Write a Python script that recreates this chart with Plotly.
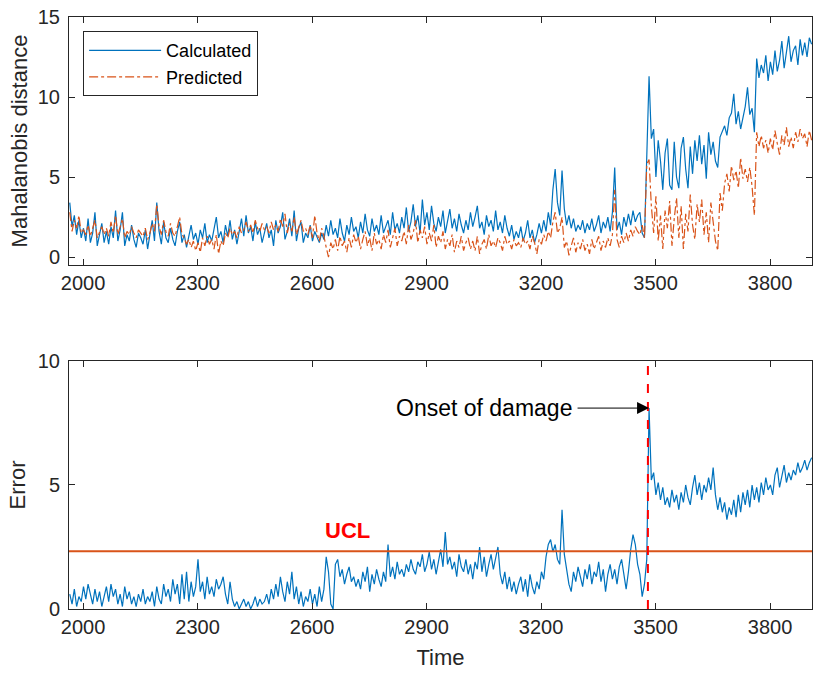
import plotly.graph_objects as go

# ---------------- data ----------------
t_start = 1965
t_step = 6

calculated = [
    3.4, 1.9, 2.6, 1.4, 2.3, 1.2,
    1.8, 1.0, 2.4, 0.9, 1.5, 2.8, 0.7, 1.3, 2.1, 0.9,
    1.6, 0.8, 1.9, 1.2, 2.9, 1.0, 1.7, 2.8, 0.7, 1.4,
    1.0, 2.0, 1.1, 0.6, 1.5, 1.2, 0.8, 1.7, 0.5, 1.4,
    2.3, 1.0, 3.4, 1.6, 0.8, 2.2, 1.2, 0.9, 1.8, 1.1,
    0.7, 1.6, 2.2, 0.9, 1.4, 0.6, 1.3, 2.0, 1.1, 1.5,
    0.8, 1.7, 1.2, 2.1, 0.9, 1.4, 1.0, 1.8, 2.5, 1.2,
    1.6, 0.9, 2.0, 1.3, 2.3, 1.1, 1.7, 0.8, 1.5, 2.4,
    1.3, 2.6, 1.5, 1.9, 1.0, 2.2, 1.4, 1.8, 0.9, 1.6,
    2.1, 1.2, 1.7, 0.7, 2.3, 1.5, 1.9, 2.8, 1.1, 1.6,
    2.4, 1.3, 2.9, 1.0, 1.8, 2.2, 0.9, 1.5, 1.2, 2.0,
    1.0, 1.6, 1.2, 0.9, 1.5, 1.1, 2.0, 1.3, 2.3, 1.4,
    1.8, 1.2, 2.4, 1.5, 1.0, 2.0, 1.4, 2.5, 1.6, 1.9,
    1.2, 2.2, 1.5, 2.7, 1.7, 1.3, 2.4, 1.6, 2.0, 1.4,
    2.6, 1.5, 1.9, 2.3, 1.4, 2.8, 1.7, 2.1, 1.5, 2.5,
    1.8, 3.1, 1.6, 2.2, 3.3, 1.9, 2.6, 1.5, 3.6, 2.0,
    2.8, 1.7, 3.2, 2.1, 1.6, 2.5, 1.9, 2.9, 1.5, 2.3,
    3.0, 1.8, 2.4, 1.6, 2.7, 2.0, 1.5, 2.3, 1.7, 2.8,
    1.9, 2.5, 3.2, 1.8, 2.2, 1.4, 2.6, 1.9, 2.3, 1.6,
    2.9, 1.7, 2.2, 1.5, 2.6, 1.8, 1.3, 2.0, 1.1, 1.6,
    1.2, 1.9, 1.0, 1.5, 2.3, 1.2, 1.7, 0.9, 1.4, 2.1,
    1.5, 2.3, 1.6, 2.8, 2.0, 4.2, 5.5, 3.4, 2.6, 5.4,
    3.0, 2.0, 2.6, 1.8, 2.4, 1.6, 2.0, 1.7, 2.3, 1.5,
    2.1, 1.7, 2.4, 1.6, 2.0, 2.6, 1.5, 2.2, 1.8, 2.5,
    1.6, 2.8, 5.6, 1.7, 2.2, 1.4, 2.5, 1.9, 2.7, 2.0,
    2.9, 2.2, 2.6, 2.8, 1.5, 1.2, 6.8, 11.3, 7.4, 8.0,
    5.0, 7.3, 6.0, 4.2, 6.5, 7.4, 4.5, 4.2, 7.2, 5.0,
    4.3, 6.8, 7.5, 5.5, 4.3, 6.9, 5.2, 7.3, 6.0, 7.6,
    5.8, 7.0, 4.9, 7.8, 6.4, 7.2, 6.0, 5.6, 7.5, 7.9,
    8.2, 7.6, 8.7, 9.0, 10.2, 8.3, 9.1, 8.0, 8.8, 9.4,
    10.6, 8.9, 9.3, 7.8, 12.4, 11.2, 12.0, 11.5, 12.6, 11.0,
    12.2, 11.4, 12.9, 11.6, 12.3, 13.5, 11.8, 12.7, 13.8, 12.2,
    12.9, 13.2, 12.0, 13.6, 12.6, 13.4, 12.5, 13.7, 13.3,
]

predicted = [
    2.8, 1.6, 2.3, 1.8, 2.6, 1.5,
    1.7, 1.4, 2.0, 1.3, 1.8, 2.3, 1.2, 1.6, 1.9, 1.4,
    1.8, 1.3, 2.2, 1.5, 2.6, 1.4, 1.9, 2.4, 1.2, 1.6,
    1.4, 1.9, 1.5, 1.2, 1.7, 1.5, 1.3, 1.8, 1.1, 1.5,
    2.1, 1.6, 3.3, 1.9, 1.4, 2.3, 1.6, 1.3, 2.1, 1.5,
    1.3, 1.9, 2.5, 1.4, 1.2, 0.8, 1.1, 0.6, 1.0, 0.4,
    0.9, 0.3, 1.2, 0.7, 1.3, 0.8, 1.1, 0.5, 1.4, 0.2,
    1.0, 0.7, 1.5, 1.2, 1.8, 1.4, 1.6, 1.2, 1.9, 1.5,
    1.7, 2.2, 1.6, 2.0, 1.5, 2.3, 1.8, 1.6, 2.1, 1.7,
    1.9, 1.5, 2.2, 1.7, 2.0, 1.6, 2.4, 1.9, 2.7, 1.5,
    2.1, 1.6, 2.5, 1.4, 1.9, 2.3, 1.6, 1.8, 1.4, 2.0,
    1.2, 2.6, 1.5, 1.0, 1.8, 1.3, 0.6, 0.0, 0.9, 0.5,
    1.1, 0.4, 1.3, 0.7, 1.0, 0.3, 1.2, 0.6, 1.4, 0.9,
    1.3, 0.5, 1.1, 1.6, 0.7, 1.2, 0.4, 1.5, 0.8, 1.1,
    0.5, 1.4, 0.9, 1.7, 0.6, 1.2, 1.8, 0.7, 1.3, 1.0,
    1.6, 0.8, 2.0, 1.1, 1.5, 2.3, 0.9, 1.7, 1.2, 1.9,
    0.8, 1.5, 1.0, 2.0, 0.6, 1.3, 0.9, 1.6, 0.5, 1.1,
    0.7, 1.4, 0.3, 1.0, 0.6, 1.3, 0.4, 0.9, 1.2, 0.5,
    1.0, 0.4, 1.3, 0.2, 0.8, 1.1, 0.5, 1.4, 0.7, 1.0,
    0.6, 1.2, 0.9, 0.4, 1.3, 0.8, 1.0, 0.5, 1.1, 0.7,
    0.9, 0.6, 1.2, 0.8, 1.0, 0.5, 1.3, 0.9, 0.2, 1.1,
    0.8, 1.4, 1.0, 1.6, 1.2, 2.2, 2.8, 1.5, 1.8, 2.5,
    0.6, 1.0, 0.1, 0.7, 1.2, 0.3, 0.9, 0.5, 1.1, 0.4,
    0.8, 0.2, 1.1, 0.5, 0.9, 1.3, 0.4, 1.0, 0.6, 1.2,
    0.7, 1.4, 4.2, 1.1, 0.6, 1.3, 0.9, 1.5, 1.0, 1.7,
    1.3, 1.9, 1.6, 1.4, 2.0, 1.2, 5.8, 6.1, 3.2, 1.5,
    3.8, 1.0, 2.6, 0.5, 2.9, 1.8, 3.5, 0.7, 2.4, 3.7,
    1.2, 3.2, 0.5, 2.7, 1.6, 3.9, 2.0, 1.1, 3.3, 2.2,
    3.6, 1.4, 2.8, 0.9, 3.4, 2.3, 1.0, 0.4, 4.0, 2.9,
    4.6, 5.2, 4.1, 5.7, 4.8, 5.4, 4.3, 6.2, 4.9, 5.5,
    4.7, 5.6, 4.4, 2.6, 7.8, 6.9, 7.6, 6.8, 7.3, 6.5,
    7.4, 6.7, 7.9, 7.1, 6.4, 7.6, 7.0, 8.1, 6.9, 7.5,
    6.8, 7.8, 7.2, 8.0, 7.4, 7.7, 6.9, 7.9, 7.3,
]

error = [
    0.6, 0.2, 0.8, 0.1, 0.5, 0.3,
    0.9, 0.4, 1.0, 0.6, 0.2, 0.8, 0.3, 0.7, 0.1, 0.5,
    0.9, 0.3, 1.0, 0.5, 0.8, 0.2, 0.6, 0.1, 0.9, 0.4,
    0.7, 0.2, 0.5, 0.1, 0.6, 0.3, 0.8, 0.2, 0.5, 0.3,
    0.7, 0.1, 0.9, 0.4, 0.2, 1.0, 0.5, 0.8, 0.3, 1.2,
    0.6, 1.0, 0.2, 1.4, 0.4, 1.5, 0.3, 1.1, 0.5, 0.9,
    2.0, 0.7, 1.1, 0.4, 1.3, 0.6, 0.9, 0.5, 1.2, 0.8,
    1.0, 1.3, 0.6, 0.2, 1.1, 0.4, 0.1, 0.3, 0.0, 0.2,
    0.4, 0.1, 0.3, 0.0, 0.2, 0.5, 0.1, 0.4, 0.2, 0.3,
    0.6, 0.2, 0.8, 0.4, 1.0, 0.5, 1.3, 0.7, 0.3, 1.1,
    0.6, 1.5, 0.4, 0.9, 0.2, 0.7, 0.1, 0.5, 0.3, 0.8,
    0.2, 0.6, 0.1, 0.9, 0.3, 0.8, 2.1, 1.5, 0.2, 0.0,
    1.8, 2.0, 1.3, 1.6, 1.0, 1.4, 1.7, 1.1, 1.3, 0.9,
    1.2, 0.8, 1.5, 1.1, 1.7, 0.7, 1.4, 1.0, 1.6, 1.2,
    0.9, 1.5, 1.1, 2.6, 1.3, 1.7, 1.2, 1.9, 1.4, 1.6,
    1.3, 1.8, 1.5, 2.0, 1.6, 1.4, 1.9, 1.7, 2.2, 1.5,
    1.8, 2.3, 1.6, 2.0, 1.4, 1.9, 2.4, 1.7, 3.1, 1.8,
    2.1, 1.6, 1.9, 1.3, 2.2, 1.7, 1.5, 2.0, 1.4, 1.8,
    1.2, 1.9, 1.6, 2.5, 1.5, 2.1, 1.3, 1.8, 2.2, 1.6,
    2.0, 2.5, 1.4, 1.0, 1.5, 0.8, 1.3, 0.7, 1.1, 0.6,
    1.0, 1.3, 0.7, 1.2, 0.5, 1.4, 0.9, 0.6, 1.1, 0.8,
    1.5, 1.2, 2.1, 2.6, 2.8, 2.3, 2.6, 2.0, 1.8, 4.0,
    2.2, 1.6, 1.0, 0.7, 1.5, 1.1, 1.7, 1.3, 0.9, 1.6,
    1.2, 1.8, 1.0, 1.5, 1.3, 1.9, 1.1, 1.6, 0.7, 1.4,
    1.8, 1.2, 1.6, 1.0, 1.7, 2.0, 1.3, 0.8, 1.5, 2.4,
    3.0, 2.6, 1.8, 1.4, 0.5, 1.0, 2.0, 8.1, 5.2, 5.5,
    4.6, 5.1, 4.4, 4.9, 4.2, 4.5, 4.1, 4.8, 4.3, 4.6,
    4.0, 4.7, 4.3, 5.0, 4.5, 4.2, 4.9, 5.4, 4.6, 5.1,
    4.4, 5.0, 4.7, 5.3, 4.8, 5.7, 4.6, 4.0, 4.5, 3.9,
    4.3, 3.6, 4.1, 3.8, 4.4, 3.7, 4.6, 3.9, 4.7, 4.2,
    4.8, 4.1, 5.0, 4.4, 4.9, 4.3, 5.1, 4.6, 5.3, 4.8,
    5.0, 4.6, 5.4, 5.7, 4.9, 5.3, 5.8, 5.1, 5.5, 5.2,
    5.6, 5.4, 5.9, 5.5, 5.7, 6.0, 5.6, 5.9, 6.1,
]

time = [t_start + t_step * i for i in range(len(calculated))]

ucl = 2.33
onset_time = 3480
onset_peak_time = 3483
onset_peak_value = 8.1
x_ticks = [2000, 2300, 2600, 2900, 3200, 3500, 3800]
x_range = [1963, 3910]

# ---------------- figure ----------------
BLUE = "#0072BD"
ORANGE = "#D95319"
AX = "#262626"
FONT = "Liberation Sans, Arial, Helvetica, sans-serif"

fig = go.Figure()

fig.add_trace(go.Scatter(x=time, y=calculated, mode="lines", name="Calculated",
                         line=dict(color=BLUE, width=1.2), xaxis="x", yaxis="y"))
fig.add_trace(go.Scatter(x=time, y=predicted, mode="lines", name="Predicted",
                         line=dict(color=ORANGE, width=1.2, dash="dashdot"), xaxis="x", yaxis="y"))
fig.add_trace(go.Scatter(x=time, y=error, mode="lines", name="Error",
                         line=dict(color=BLUE, width=1.2), xaxis="x2", yaxis="y2",
                         showlegend=False))
# UCL line
fig.add_trace(go.Scatter(x=x_range, y=[ucl, ucl], mode="lines",
                         line=dict(color=ORANGE, width=2), xaxis="x2", yaxis="y2",
                         showlegend=False))
# onset dashed line
fig.add_trace(go.Scatter(x=[onset_time, onset_time], y=[0, 10], mode="lines",
                         line=dict(color="#FF0000", width=2, dash="dash"),
                         xaxis="x2", yaxis="y2", showlegend=False))

common_x = dict(range=x_range, tickvals=x_ticks, showline=True, linecolor=AX, linewidth=1,
                mirror="ticks", ticks="inside", ticklen=6, tickcolor=AX,
                tickfont=dict(size=20, color=AX, family=FONT), showgrid=False,
                zeroline=False)
common_y = dict(showline=True, linecolor=AX, linewidth=1, mirror="ticks", ticks="inside",
                ticklen=6, tickcolor=AX, tickfont=dict(size=20, color=AX, family=FONT),
                showgrid=False, zeroline=False, ticklabelstandoff=4)

fig.update_layout(
    width=813, height=675,
    margin=dict(l=69, r=1, t=17, b=66),
    paper_bgcolor="white", plot_bgcolor="white",
    font=dict(family=FONT, color=AX),
    xaxis=dict(domain=[0, 1], anchor="y", **common_x),
    yaxis=dict(domain=[0.581, 1], anchor="x", range=[-0.5, 15], tickvals=[0, 5, 10, 15],
               title=dict(text="Mahalanobis distance", font=dict(size=22, color=AX), standoff=4),
               **common_y),
    xaxis2=dict(domain=[0, 1], anchor="y2",
                title=dict(text="Time", font=dict(size=22, color=AX), standoff=12),
                **common_x),
    yaxis2=dict(domain=[0, 0.419], anchor="x2", range=[0, 10], tickvals=[0, 5, 10],
                title=dict(text="Error", font=dict(size=22, color=AX), standoff=6),
                **common_y),
    legend=dict(x=0.019, y=0.976, xanchor="left", yanchor="top",
                bgcolor="white", bordercolor=AX, borderwidth=1,
                font=dict(size=18, color="black", family=FONT),
                itemwidth=72, tracegroupgap=0),
    showlegend=True,
)

fig.add_annotation(x=2694, y=2.6, xref="x2", yref="y2", text="<b>UCL</b>",
                   showarrow=False, yanchor="bottom",
                   font=dict(size=22, color="#FF0000", family=FONT))
fig.add_annotation(x=onset_peak_time, y=onset_peak_value, xref="x2", yref="y2",
                   text="Onset of damage", showarrow=True, arrowhead=2, arrowsize=2.4,
                   arrowwidth=1, arrowcolor="black", ax=-165, ay=0, standoff=0,
                   borderpad=5,
                   font=dict(size=23, color="black", family=FONT))

fig.write_html("out.html")
